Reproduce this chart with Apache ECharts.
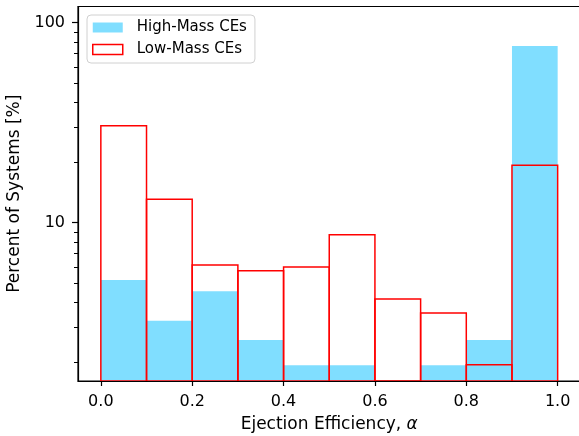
<!DOCTYPE html>
<html>
<head>
<meta charset="utf-8">
<script src="https://cdn.jsdelivr.net/npm/echarts@6/dist/echarts.min.js"></script>
<style>
  html, body { margin: 0; padding: 0; background: #fff; }
  #chart { width: 579px; height: 436px; }
</style>
</head>
<body>
<div id="chart"></div>
<script>
// bin edges of the histogram (alpha)
var binEdges = [0.0, 0.1, 0.2, 0.3, 0.4, 0.5, 0.6, 0.7, 0.8, 0.9, 1.0];
// percent of systems per bin
var highMass = [5.17, 3.24, 4.55, 2.59, 1.94, 1.94, 0, 1.94, 2.59, 76.5];
var lowMass = [30.5, 13.1, 6.14, 5.75, 6.0, 8.71, 4.15, 3.54, 1.95, 19.4];
var xTicks = [0.0, 0.2, 0.4, 0.6, 0.8, 1.0];
var yMajor = [10, 100];
var yMinor = [2, 3, 4, 5, 6, 7, 8, 9, 20, 30, 40, 50, 60, 70, 80, 90];

var FONT = 'DejaVu Sans';

function toBins(vals) {
    var out = [];
    for (var i = 0; i < vals.length; i++) {
        out.push([binEdges[i], binEdges[i + 1], vals[i]]);
    }
    return out;
}

// one rectangle per bin, from the bottom of the plot up to the value
function renderBin(params, api) {
    var v = api.value(2);
    if (!(v > 0)) {
        return null;
    }
    var p0 = api.coord([api.value(0), v]);
    var p1 = api.coord([api.value(1), v]);
    var base = params.coordSys.y + params.coordSys.height;
    return {
        type: 'rect',
        shape: { x: p0[0], y: p0[1], width: p1[0] - p0[0], height: base - p0[1] },
        style: api.style()
    };
}

var chart = echarts.init(document.getElementById('chart'));
var yMin = 1.617, yMax = 120.5;

chart.setOption({
    animation: false,
    grid: {
        left: 78, right: -1.5, top: 6.5, bottom: 55,
        outerBoundsMode: 'none', containLabel: false,
        show: true, borderColor: '#000', borderWidth: 1.2
    },
    legend: {
        left: 87, top: 15,
        orient: 'vertical',
        padding: [5, 8, 6, 5],
        itemGap: 7,
        itemWidth: 30, itemHeight: 10,
        backgroundColor: '#fff',
        borderColor: '#d0d0d0', borderWidth: 1, borderRadius: 4,
        textStyle: { fontFamily: FONT, fontSize: 15, color: '#000', padding: [0, 0, 0, 9] },
        data: [
            { name: 'High-Mass CEs', icon: 'rect', itemStyle: { color: '#80DEFF', borderWidth: 0 } },
            { name: 'Low-Mass CEs', icon: 'rect', itemStyle: { color: '#fff', borderColor: '#ff0000', borderWidth: 1.5 } }
        ]
    },
    xAxis: {
        type: 'value', min: -0.05, max: 1.05,
        name: 'Ejection Efficiency, {i|α}', nameLocation: 'middle', nameGap: 35,
        nameTextStyle: {
            fontFamily: FONT, fontSize: 17, color: '#000',
            rich: { i: { fontFamily: FONT, fontSize: 17, fontStyle: 'italic', color: '#000' } }
        },
        axisLine: { onZero: false, lineStyle: { color: '#000', width: 1.2 } },
        axisTick: { length: 5, lineStyle: { color: '#000', width: 1.2 }, customValues: xTicks },
        axisLabel: {
            fontFamily: FONT, fontSize: 16, color: '#000', margin: 13,
            customValues: xTicks,
            formatter: function (v) { return v.toFixed(1); }
        },
        splitLine: { show: false }
    },
    yAxis: [{
        type: 'log', min: yMin, max: yMax,
        name: 'Percent of Systems [%]', nameLocation: 'middle', nameGap: 48,
        nameTextStyle: { fontFamily: FONT, fontSize: 17, color: '#000' },
        axisLine: { show: true, onZero: false, lineStyle: { color: '#000', width: 1.2 } },
        axisTick: { length: 6, lineStyle: { color: '#000', width: 1.2 }, customValues: yMajor },
        axisLabel: { fontFamily: FONT, fontSize: 16, color: '#000', margin: 13, customValues: yMajor },
        splitLine: { show: false }
    }, {
        type: 'log', min: yMin, max: yMax, position: 'left',
        axisLine: { show: false, onZero: false },
        axisTick: { length: 4, lineStyle: { color: '#000', width: 1 }, customValues: yMinor },
        axisLabel: { show: false },
        splitLine: { show: false }
    }],
    series: [{
        name: 'High-Mass CEs',
        type: 'custom',
        renderItem: renderBin,
        clip: true,
        itemStyle: { color: '#80DEFF' },
        encode: { x: [0, 1], y: 2 },
        data: toBins(highMass)
    }, {
        name: 'Low-Mass CEs',
        type: 'custom',
        renderItem: renderBin,
        clip: true,
        itemStyle: { color: 'none', borderColor: '#ff0000', borderWidth: 1.5 },
        encode: { x: [0, 1], y: 2 },
        data: toBins(lowMass)
    }]
});
</script>
</body>
</html>
